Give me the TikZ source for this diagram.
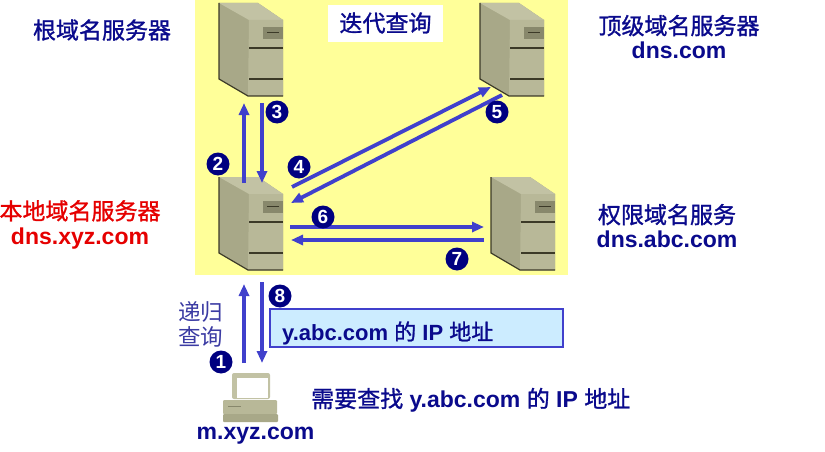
\documentclass[tikz,border=0pt]{standalone}
\usepackage{fontspec}
\usepackage{xcolor}
\usepackage{tikz}
\usetikzlibrary{arrows.meta}
\setmainfont{Liberation Sans}
\newfontfamily\zh{Noto Sans CJK SC}[BoldFont={Noto Sans CJK SC}, BoldFeatures={FakeBold=1.2}]

\definecolor{titlenavy}{RGB}{10,10,140}
\definecolor{badgenavy}{RGB}{0,0,128}
\definecolor{arrowblue}{RGB}{64,64,204}
\definecolor{paleyellow}{RGB}{255,255,153}
\definecolor{paleblue}{RGB}{204,236,255}
\definecolor{srvfront}{RGB}{184,184,152}
\definecolor{srvside}{RGB}{168,168,136}
\definecolor{srvtop}{RGB}{194,194,164}
\definecolor{srvdark}{RGB}{60,58,40}
\definecolor{srvpanel}{RGB}{136,136,108}

\tikzset{
  label text/.style={font=\fontsize{23}{24.5}\selectfont\bfseries, text=titlenavy, inner sep=0pt, align=center},
  thin text/.style={font=\fontsize{22.5}{25}\selectfont\zh, text=titlenavy!80, inner sep=0pt, align=center},
  badge/.style={circle, fill=badgenavy, text=white, minimum size=23pt, inner sep=0pt, font=\fontsize{19}{19}\selectfont\bfseries},
  flow/.style={arrowblue, line width=3.8pt, -{Triangle[length=12pt,width=10pt]}},
  server/.pic={
    % the three faces of the case
    \fill[srvside] (0,0) -- (39,0) -- (64,17) -- (64,93) -- (29,93) -- (0,76) -- cycle;
    \fill[srvtop] (0,0) -- (39,0) -- (64,17) -- (30,17) -- cycle;
    \fill[srvfront] (30,17) -- (64,17) -- (64,93) -- (29,93) -- cycle;
    % dark edges
    \draw[srvdark, line width=1.2pt] (0,0) -- (0,76) -- (29,93) -- (64,93);
    % panel and slots
    \fill[srvpanel] (44,24) rectangle (64,36);
    \draw[srvdark, line width=0.9pt] (48,29) -- (60,29);
    \draw[srvdark, line width=1.2pt] (30,45) -- (64,45);
    \draw[srvdark, line width=1.2pt] (30,76) -- (64,76);
  },
  computer/.pic={
    % monitor
    \fill[srvtop, rounded corners=2pt] (9,0) rectangle (47,26);
    \fill[white] (14,5) rectangle (45,25);
    % base
    \fill[srvfront, rounded corners=1pt] (0,27) rectangle (54,41);
    \draw[srvpanel, line width=1pt] (5,33) -- (18,33);
    % keyboard
    \fill[srvside, rounded corners=1pt] (0,41) rectangle (55,49);
  }
}

\begin{document}
\begin{tikzpicture}[x=1pt, y=-1pt]
\useasboundingbox (0,0) rectangle (825,452);

% Yellow area of the iterative part
\fill[paleyellow] (195,0) rectangle (568,275);
\node[fill=white, minimum width=115pt, minimum height=37pt, inner sep=0pt] (itertitle) at (385.5,23.5) {};
\node[label text] (itertext) at (385.5,23) {\zh 迭代查询};

% Result box
\node[draw=arrowblue, line width=1.2pt, fill=paleblue, minimum width=293pt, minimum height=38pt, inner sep=0pt] (resultbox) at (416.5,328) {};
\node[label text, anchor=west, font=\fontsize{22}{24}\selectfont\bfseries] (resulttext) at (282,333) {y.abc.com {\zh 的} IP {\zh 地址}};

% Servers and the client
\pic (rootsrv) at (219,3) {server};
\pic (tldsrv) at (480,3) {server};
\pic (localsrv) at (219,177) {server};
\pic (authsrv) at (491,177) {server};
\pic (client) at (223,373) {computer};

% Arrow ends
\coordinate (a1) at (244,363);
\coordinate (b1) at (244,284);
\coordinate (a2) at (244,183);
\coordinate (b2) at (244,103);
\coordinate (a3) at (262,103);
\coordinate (b3) at (262,183);
\coordinate (a4) at (292,187);
\coordinate (b4) at (491,87);
\coordinate (a5) at (502,95);
\coordinate (b5) at (291,203);
\coordinate (a6) at (290,227);
\coordinate (b6) at (484,227);
\coordinate (a7) at (484,240);
\coordinate (b7) at (291,240);
\coordinate (a8) at (262,282);
\coordinate (b8) at (262,363);

% Draw the query and reply arrows
\draw[flow] (a1) -- (b1);
\draw[flow] (a2) -- (b2);
\draw[flow] (a3) -- (b3);
\draw[flow] (a4) -- (b4);
\draw[flow] (a5) -- (b5);
\draw[flow] (a6) -- (b6);
\draw[flow] (a7) -- (b7);
\draw[flow] (a8) -- (b8);

% Numbered badges
\foreach \n/\x/\y in {1/221/362, 2/218/164, 3/277/112, 4/299/167, 5/497/112, 6/323/217, 7/457/259, 8/280/296}
{
    \node[badge] (badge\n) at (\x,\y) {\n};
}

% Add labels
\node[label text] (rootlabel) at (102,30) {\zh 根域名服务器};
\node[label text] (tldlabel) at (679,37) {{\zh 顶级域名服务器}\\dns.com};
\node[label text, text=red!90!black] (locallabel) at (80,224.5) {{\zh 本地域名服务器}\\dns.xyz.com};
\node[label text] (authlabel) at (667,226) {{\zh 权限域名服务}\\dns.abc.com};
\node[thin text] (recurlabel) at (200.5,324) {递归\\查询};
\node[label text, anchor=west] (needlabel) at (311,400) {{\zh 需要查找} y.abc.com {\zh 的} IP {\zh 地址}};
\node[label text] (clientlabel) at (255.5,436) {m.xyz.com};

\end{tikzpicture}
\end{document}
